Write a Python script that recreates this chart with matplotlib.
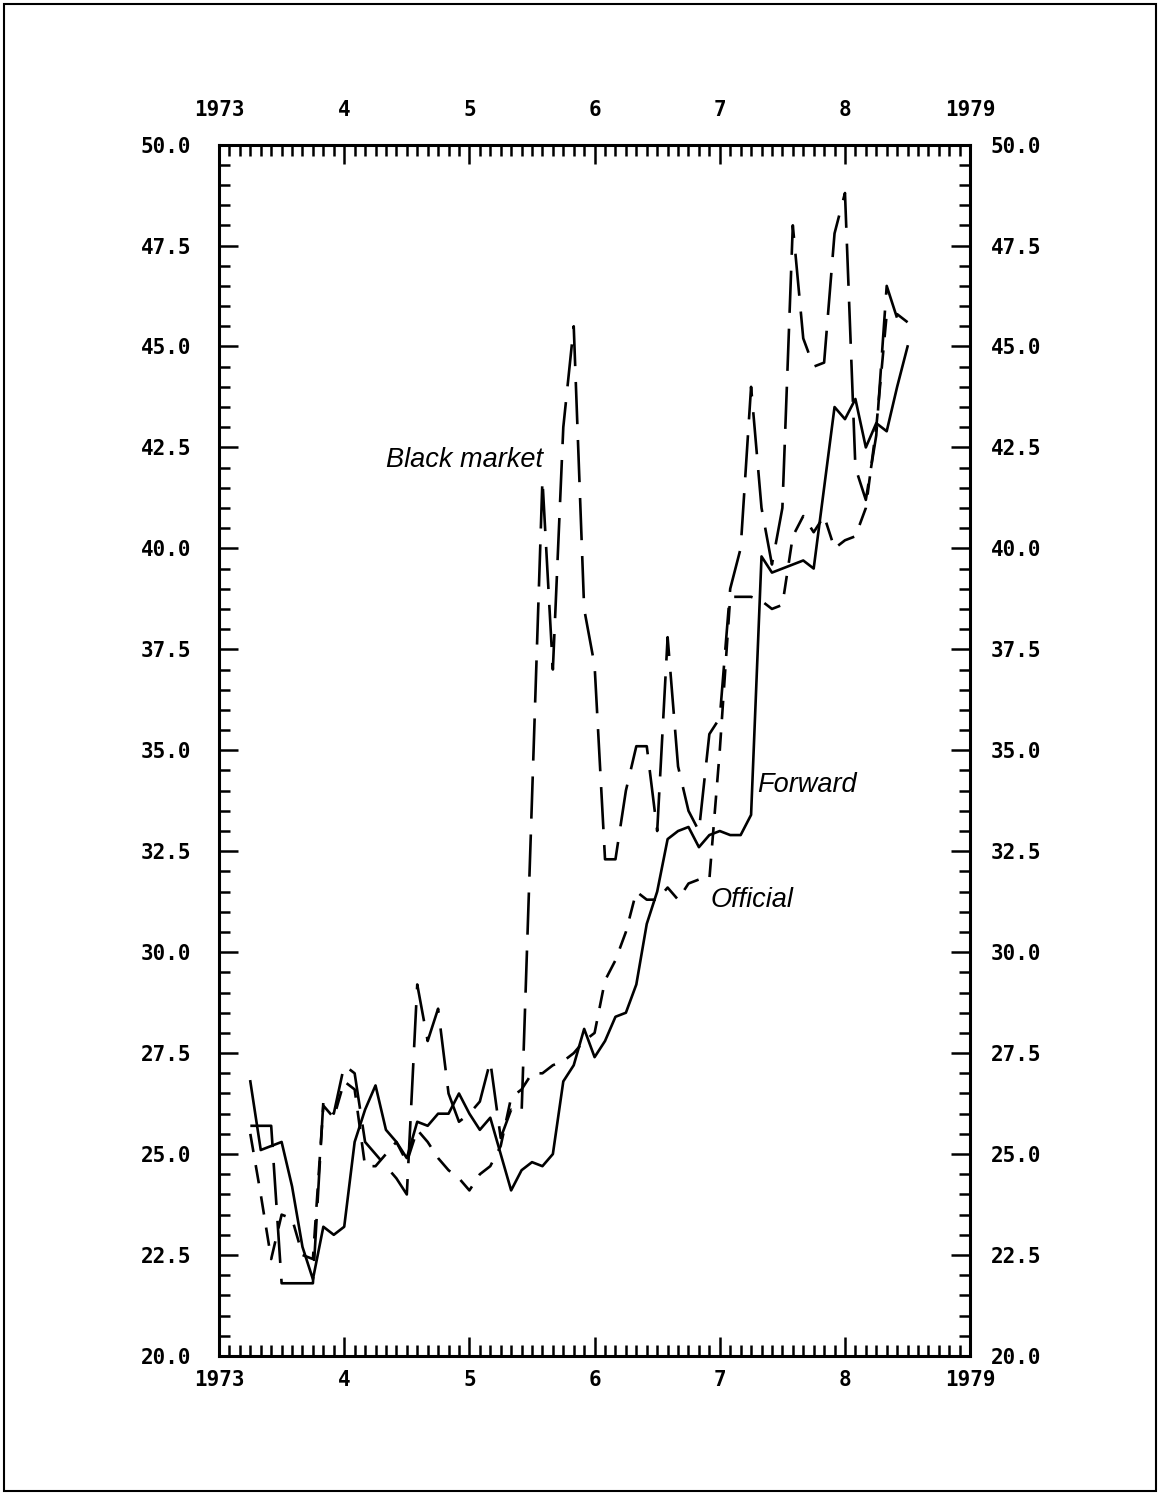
import numpy as np
import matplotlib.pyplot as plt
from matplotlib.patches import Rectangle
from matplotlib.ticker import MultipleLocator

# monthly observations, April 1973 .. July 1978
start_year = 1973
start_month = 4
forward = [26.8, 25.1, 25.2, 25.3, 24.2, 22.7, 21.9, 23.2, 23.0, 23.2,
           25.3, 26.1, 26.7, 25.6, 25.3, 24.9, 25.8, 25.7, 26.0, 26.0,
           26.5, 26.0, 25.6, 25.9, 25.0, 24.1, 24.6, 24.8, 24.7, 25.0,
           26.8, 27.2, 28.1, 27.4, 27.8, 28.4, 28.5, 29.2, 30.7, 31.5,
           32.8, 33.0, 33.1, 32.6, 32.9, 33.0, 32.9, 32.9, 33.4, 39.8,
           39.4, 39.5, 39.6, 39.7, 39.5, 41.5, 43.5, 43.2, 43.7, 42.5,
           43.1, 42.9, 44.0, 45.0]
official = [25.5, 24.0, 22.4, 23.5, 23.4, 22.5, 22.4, 26.2, 25.9, 26.8,
            26.6, 24.7, 24.7, 25.0, 25.3, 24.8, 25.6, 25.3, 24.9, 24.6,
            24.4, 24.1, 24.5, 24.7, 25.2, 26.4, 26.6, 27.0, 27.0, 27.2,
            27.3, 27.5, 27.8, 28.0, 29.3, 29.8, 30.5, 31.5, 31.3, 31.3,
            31.6, 31.3, 31.7, 31.8, 31.8, 35.0, 38.8, 38.8, 38.8, 38.7,
            38.5, 38.6, 40.3, 40.8, 40.4, 40.8, 40.0, 40.2, 40.3, 41.0,
            43.0, 45.8, 45.8, 45.6]
black_market = [25.7, 25.7, 25.7, 21.8, 21.8, 21.8, 21.8, 26.3, 26.0, 27.2,
                27.0, 25.3, 25.0, 24.7, 24.4, 24.0, 29.2, 27.8, 28.6, 26.5,
                25.8, 26.0, 26.3, 27.3, 25.4, 26.1, 26.0, 33.8, 41.7, 37.0,
                43.0, 45.5, 38.5, 37.1, 32.3, 32.3, 34.0, 35.1, 35.1, 33.0,
                37.8, 34.6, 33.5, 33.0, 35.4, 35.8, 39.0, 40.0, 44.0, 41.0,
                39.6, 41.0, 48.0, 45.2, 44.5, 44.6, 47.8, 48.8, 42.0, 41.2,
                42.8, 46.5, 45.7, 45.6]

year_ticks = [1973, 1974, 1975, 1976, 1977, 1978, 1979]
year_labels = ['1973', '4', '5', '6', '7', '8', '1979']
y_ticks = np.arange(20, 50.1, 2.5)

t = start_year + (start_month - 1 + np.arange(len(forward))) / 12.0

fig = plt.figure(figsize=(11.7, 14.95), dpi=100)
ax = fig.add_axes([0.1872, 0.0930, 0.642, 0.8103])

ax.plot(t, forward, color='black', lw=1.9)
ax.plot(t, official, color='black', lw=1.9, dashes=(7, 5))
ax.plot(t, black_market, color='black', lw=1.9, dashes=(16, 6))

ax.set_xlim(1973, 1979)
ax.set_ylim(20, 50)

tick_font = dict(family='DejaVu Sans Mono', weight='bold', size=15)
ax.set_yticks(y_ticks)
ax.set_yticklabels([f'{v:.1f}' for v in y_ticks], **tick_font)
ax.yaxis.set_minor_locator(MultipleLocator(0.5))
ax.set_xticks(year_ticks)
ax.set_xticklabels(year_labels, **tick_font)
ax.xaxis.set_minor_locator(MultipleLocator(1 / 12))

# right-hand and top labels sit at their own distance from the frame
ax2 = ax.twinx()
ax2.set_ylim(20, 50)
ax2.set_yticks(y_ticks)
ax2.set_yticklabels([f'{v:.1f}' for v in y_ticks], **tick_font)
ax2.tick_params(axis='y', length=0, pad=15)

ax3 = ax.twiny()
ax3.set_xlim(1973, 1979)
ax3.set_xticks(year_ticks)
ax3.set_xticklabels(year_labels, **tick_font)
ax3.tick_params(axis='x', length=0, pad=18)

# tick marks on all four sides of the main frame
ax.tick_params(which='both', direction='in', top=True, bottom=True,
               left=True, right=True, labeltop=False, labelright=False,
               labelbottom=True, labelleft=True, width=1.8, color='black')
ax.tick_params(which='major', length=14)
ax.tick_params(which='minor', length=8)
ax.tick_params(axis='y', pad=20)
ax.tick_params(axis='x', pad=10)

for s in ax.spines.values():
    s.set_linewidth(2.2)

label_font = dict(family='Liberation Sans', style='italic', size=19.5, va='center')
ax.text(1974.33, 42.19, 'Black market', **label_font)
ax.text(1977.30, 34.15, 'Forward', **label_font)
ax.text(1976.93, 31.30, 'Official', **label_font)

fig.patches.append(Rectangle((0.003, 0.003), 0.985, 0.994, transform=fig.transFigure,
                             fill=False, lw=1.5, color='black'))

plt.savefig('out.png', dpi=100)
